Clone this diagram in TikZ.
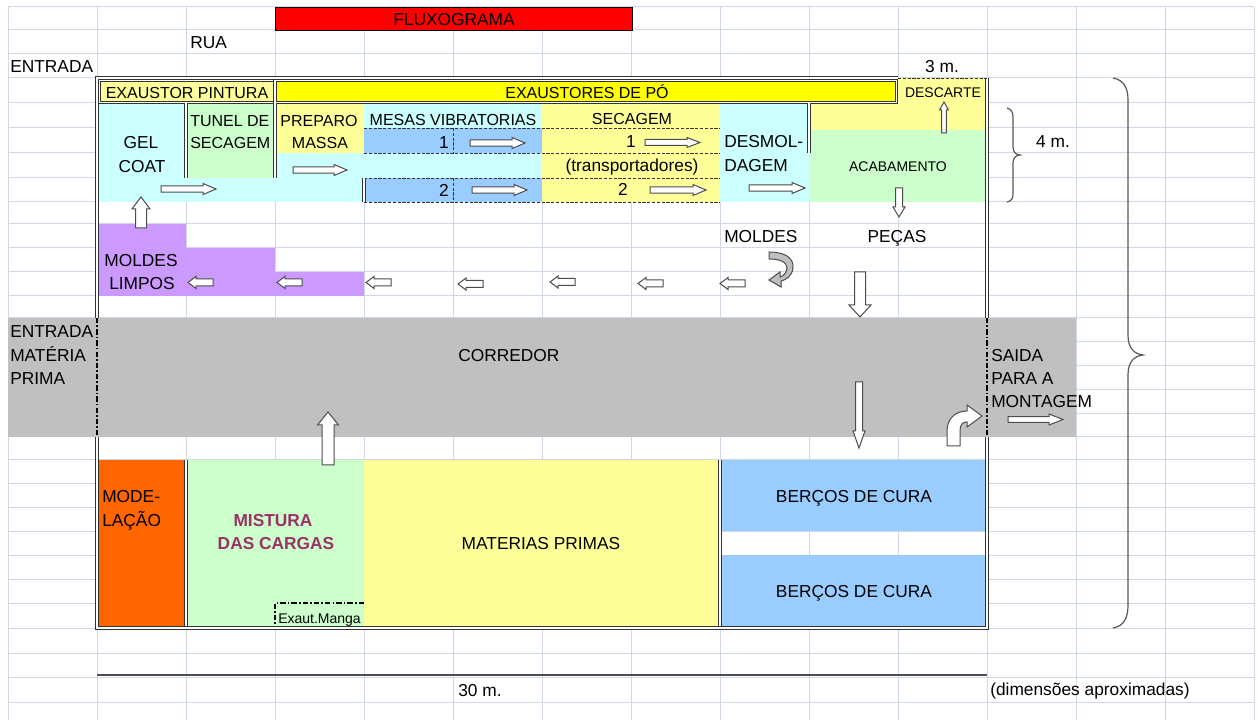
\documentclass[tikz,border=0pt]{standalone}
\usepackage{fontspec}
\setmainfont{Liberation Sans}
\usepackage{xcolor}
\definecolor{GridBlue}{RGB}{208,215,229}
\definecolor{LightCyan}{RGB}{204,255,255}
\definecolor{LightGreen}{RGB}{204,255,204}
\definecolor{LightYellow}{RGB}{255,255,153}
\definecolor{PlainYellow}{RGB}{255,255,0}
\definecolor{SkyBlue}{RGB}{153,204,255}
\definecolor{Lavender}{RGB}{204,153,255}
\definecolor{DeepOrange}{RGB}{255,102,0}
\definecolor{CorridorGray}{RGB}{192,192,192}
\definecolor{Plum}{RGB}{153,51,102}

\tikzset{
  gridline/.style={draw=GridBlue, line width=0.75pt},
  dbl/.style={draw=black!80, line width=2.3pt, postaction={draw=white, line width=0.8pt}},
  dashcell/.style={draw=black!80, line width=0.6pt, dash pattern=on 2.4pt off 1.2pt},
  dashdotline/.style={draw=black, line width=1.3pt, dash pattern=on 4pt off 1.6pt on 1.2pt off 1.6pt},
  arrowline/.style={draw=black!70, fill=white, line width=0.75pt},
  braceline/.style={draw=black!65, line width=0.9pt},
  lbl/.style={inner sep=0pt, font=\fontsize{13}{15}\selectfont},
  lbltight/.style={inner sep=0pt, font=\fontsize{12}{14}\selectfont},
  lblsmall/.style={inner sep=0pt, font=\fontsize{10.5}{12}\selectfont},
  pics/blockarrow/.style n args={4}{code={
    \draw[arrowline] (0,-#3) -- (#1-#4,-#3) -- (#1-#4,-#2) -- (#1,0) -- (#1-#4,#2) -- (#1-#4,#3) -- (0,#3) -- cycle;
  }},
}

\begin{document}
\begin{tikzpicture}[x=0.75pt,y=0.75pt,yscale=-1,xscale=1]
\useasboundingbox (0,0) rectangle (1258,720);
\fill[white] (0,0) rectangle (1258,720);

%Sheet grid
\foreach \gx in {8,97,...,1254} \draw[gridline] (\gx,7) -- (\gx,720);
\foreach \gy in {7,30,54,78,103,128,153,178,202,224,248,272,296,318,342,366,390,414,437,460,484,508,531,555,579,603,628,653,677,702} \draw[gridline] (8,\gy) -- (1254,\gy);

%Shape: Rectangle (title)
\draw [fill=red, draw=black, line width=0.6pt] (275,7) rectangle (632,30);

%Shapes: top block fills
\fill[LightYellow] (97,78) rectangle (275,103);
\fill[PlainYellow] (275,78) rectangle (898,103);
\fill[LightYellow] (898,78) rectangle (987,103);
\fill[LightYellow] (809,103) rectangle (987,130);
\fill[LightGreen] (809,130) rectangle (987,202);
\fill[LightCyan] (97,103) rectangle (186,178);
\fill[LightCyan] (97,178) rectangle (364,202);
\fill[LightGreen] (186,103) rectangle (275,178);
\fill[LightYellow] (275,103) rectangle (364,153);
\fill[LightCyan] (275,153) rectangle (542,178);
\fill[LightCyan] (364,103) rectangle (542,128);
\fill[SkyBlue] (364,128) rectangle (542,153);
\fill[SkyBlue] (364,178) rectangle (542,202);
\fill[LightYellow] (542,103) rectangle (720,202);
\fill[LightCyan] (720,103) rectangle (809,202);

%Shapes: clean moulds
\fill[Lavender] (97,224) rectangle (186,296);
\fill[Lavender] (186,248) rectangle (275,296);
\fill[Lavender] (275,272) rectangle (364,296);

%Shape: corridor
\fill[CorridorGray] (8,318) rectangle (1076,437);

%Shapes: bottom block fills
\fill[DeepOrange] (97,460) rectangle (186,628);
\fill[LightGreen] (186,460) rectangle (364,628);
\fill[LightYellow] (364,460) rectangle (720,628);
\fill[SkyBlue] (720,460) rectangle (987,531);
\fill[SkyBlue] (720,555) rectangle (987,628);

%Dashed lines (tables and conveyors)
\draw[dashcell] (364,128) -- (720,128);
\draw[dashcell] (364,153) -- (720,153);
\draw[dashcell] (364,178) -- (720,178);
\draw[dashcell] (364,202) -- (720,202);
\draw[dashcell] (453,128) -- (453,153);
\draw[dashcell] (453,178) -- (453,202);
\draw[dashdotline] (364,603) -- (275,603) -- (275,628);

%Double lines
\draw[dbl] (99.5,80.5) rectangle (275,102.5);
\draw[dbl] (275,80.5) rectangle (896.5,102.5);
\draw[dbl] (186,103) -- (186,178);
\draw[dbl] (275,103) -- (275,178);
\draw[dbl] (364,178) -- (364,202);
\draw[dbl] (809,103) -- (809,153);
\draw[dbl] (186,460) -- (186,628);
\draw[dbl] (720,460) -- (720,628);

%Building outline
\draw[dbl] (898,78) -- (97,78) -- (97,318);
\draw[dbl] (97,437) -- (97,628) -- (987,628) -- (987,437);
\draw[dbl] (987,318) -- (987,78);
\draw[dashcell] (898,78) -- (987,78);
\draw[dashdotline] (97,318) -- (97,437);
\draw[dashdotline] (987,318) -- (987,437);

%Right arrows
\pic at (161,189) {blockarrow={55}{5.5}{3.2}{13}};
\pic at (293,170) {blockarrow={54}{5.5}{3.2}{13}};
\pic at (470,143) {blockarrow={55}{5.5}{3.2}{13}};
\pic at (645,142.5) {blockarrow={55}{5}{3}{13}};
\pic at (472,190) {blockarrow={55}{5.5}{3.2}{13}};
\pic at (650,190) {blockarrow={56}{5.5}{3.2}{13}};
\pic at (749,188) {blockarrow={56}{5.5}{3.2}{13}};
\pic at (1008,419.5) {blockarrow={55}{5.5}{2.8}{14}};

%Left arrows
\pic[rotate=180] at (213,282.5) {blockarrow={25}{6}{3.5}{8}};
\pic[rotate=180] at (302,282.5) {blockarrow={25}{6}{3.5}{8}};
\pic[rotate=180] at (391,282.5) {blockarrow={25}{6}{3.5}{8}};
\pic[rotate=180] at (483,284) {blockarrow={25}{6}{3.5}{8}};
\pic[rotate=180] at (575,282) {blockarrow={25}{6}{3.5}{8}};
\pic[rotate=180] at (663,283.5) {blockarrow={25}{6}{3.5}{8}};
\pic[rotate=180] at (745,283.5) {blockarrow={25}{6}{3.5}{8}};

%Up and down arrows
\pic[rotate=90] at (141,228) {blockarrow={31}{9}{5.5}{12}};
\pic[rotate=90] at (944,133) {blockarrow={31}{4.5}{2.3}{8}};
\pic[rotate=-90] at (899,188) {blockarrow={29}{6}{3.5}{10}};
\pic[rotate=-90] at (860,272) {blockarrow={45}{11}{5.5}{12}};
\pic[rotate=-90] at (859,382) {blockarrow={66}{6}{3.5}{17}};
\pic[rotate=90] at (328,465) {blockarrow={53}{10.5}{6}{13}};

%Curved arrow (moulds)
\draw[arrowline, fill=black!25] (769,252) .. controls (785,252) and (794,258) .. (793,268) .. controls (792,276) and (786,280) .. (781,281) -- (781,287) -- (769,280) -- (780,272) -- (780,277) .. controls (784,276) and (787,272) .. (787,268) .. controls (787,262) and (780,259) .. (769,259) -- cycle;
%Turn arrow (exit)
\draw[arrowline] (947,446) -- (947,431) .. controls (947,419) and (955,411) .. (967,411) -- (967,405) -- (982,416) -- (967,427) -- (967,422) .. controls (962,422) and (960,425) .. (960,431) -- (960,446) -- cycle;

%Braces
\draw[braceline] (1007,108) .. controls (1011,109) and (1013,112) .. (1013,117) -- (1013,147) .. controls (1013,152) and (1016,155) .. (1020,155) .. controls (1016,155) and (1013,158) .. (1013,163) -- (1013,194) .. controls (1013,199) and (1011,201) .. (1007,202);
\draw[braceline] (1113,78) .. controls (1124,80) and (1128,88) .. (1128,100) -- (1128,335) .. controls (1128,348) and (1134,354) .. (1143,355) .. controls (1134,356) and (1128,362) .. (1128,375) -- (1128,605) .. controls (1128,618) and (1124,626) .. (1113,628);

%Dimension line
\draw[draw=black!70, line width=1pt] (97,675) -- (987,675);

% Text Node
\draw (454,26) node [anchor=base][lbl] (fluxo) {FLUXOGRAMA};
% Text Node
\draw (190,49) node [anchor=base west][lbl] (rua) {RUA};
% Text Node
\draw (10,73) node [anchor=base west][lbl] (entrada) {ENTRADA};
% Text Node
\draw (942,73) node [anchor=base][lbl] (tresm) {3 m.};
% Text Node
\draw (187,99) node [anchor=base][lbltight] (expint) {EXAUSTOR PINTURA};
% Text Node
\draw (587,99) node [anchor=base][lbltight] (expo) {EXAUSTORES DE PÓ};
% Text Node
\draw (943,98) node [anchor=base][lblsmall] (descarte) {DESCARTE};
% Text Node
\draw (141,149) node [anchor=base][lbl] (gel) {GEL};
% Text Node
\draw (142,173) node [anchor=base][lbl] (coat) {COAT};
% Text Node
\draw (190,127) node [anchor=base west][lbltight] (tunel) {TUNEL DE};
% Text Node
\draw (190,149) node [anchor=base west][lbltight] (tunelsec) {SECAGEM};
% Text Node
\draw (319,127) node [anchor=base][lbltight] (preparo) {PREPARO};
% Text Node
\draw (320,149) node [anchor=base][lbltight] (massa) {MASSA};
% Text Node
\draw (453,126) node [anchor=base][lbltight] (mesas) {MESAS VIBRATORIAS};
% Text Node
\draw (449,149) node [anchor=base east][lbl] (mesaum) {1};
% Text Node
\draw (449,197) node [anchor=base east][lbl] (mesadois) {2};
% Text Node
\draw (632,125) node [anchor=base][lbltight] (secagem) {SECAGEM};
% Text Node
\draw (631,148) node [anchor=base][lbl] (secaum) {1};
% Text Node
\draw (632,172) node [anchor=base][lbl] (transp) {(transportadores)};
% Text Node
\draw (623,196) node [anchor=base][lbl] (secadois) {2};
% Text Node
\draw (724,148) node [anchor=base west][lbl] (desmol) {DESMOL-};
% Text Node
\draw (724,172) node [anchor=base west][lbl] (dagem) {DAGEM};
% Text Node
\draw (898,172) node [anchor=base][lblsmall] (acab) {ACABAMENTO};
% Text Node
\draw (1053,148) node [anchor=base][lbl] (quatrom) {4 m.};
% Text Node
\draw (141,267) node [anchor=base][lbl] (moldes) {MOLDES};
% Text Node
\draw (142,290) node [anchor=base][lbl] (limpos) {LIMPOS};
% Text Node
\draw (724,243) node [anchor=base west][lbl] (moldesdir) {MOLDES};
% Text Node
\draw (897,243) node [anchor=base][lbl] (pecas) {PEÇAS};
% Text Node
\draw (10,338) node [anchor=base west][lbl] (entmat) {ENTRADA};
% Text Node
\draw (10,362) node [anchor=base west][lbl] (materia) {MATÉRIA};
% Text Node
\draw (10,385) node [anchor=base west][lbl] (prima) {PRIMA};
% Text Node
\draw (458,362) node [anchor=base west][lbl] (corredor) {CORREDOR};
% Text Node
\draw (991,362) node [anchor=base west][lbl] (saida) {SAIDA};
% Text Node
\draw (991,385) node [anchor=base west][lbl] (paraa) {PARA A};
% Text Node
\draw (991,408) node [anchor=base west][lbl] (montagem) {MONTAGEM};
% Text Node
\draw (102,503) node [anchor=base west][lbl] (mode) {MODE-};
% Text Node
\draw (102,527) node [anchor=base west][lbl] (lacao) {LAÇÃO};
% Text Node
\draw (273,527) node [anchor=base][lbl, text=Plum, font=\fontsize{13}{15}\selectfont\bfseries] (mistura) {MISTURA};
% Text Node
\draw (276,550) node [anchor=base][lbl, text=Plum, font=\fontsize{13}{15}\selectfont\bfseries] (cargas) {DAS CARGAS};
% Text Node
\draw (278,623) node [anchor=base west][lblsmall] (manga) {Exaut.Manga};
% Text Node
\draw (541,550) node [anchor=base][lbl] (materias) {MATERIAS PRIMAS};
% Text Node
\draw (854,503) node [anchor=base][lbl] (bercoum) {BERÇOS DE CURA};
% Text Node
\draw (854,597) node [anchor=base][lbl] (bercodois) {BERÇOS DE CURA};
% Text Node
\draw (458,696) node [anchor=base west][lbl] (trintam) {30 m.};
% Text Node
\draw (990,695) node [anchor=base west][lbl] (dimensoes) {(dimensões aproximadas)};

\end{tikzpicture}
\end{document}
